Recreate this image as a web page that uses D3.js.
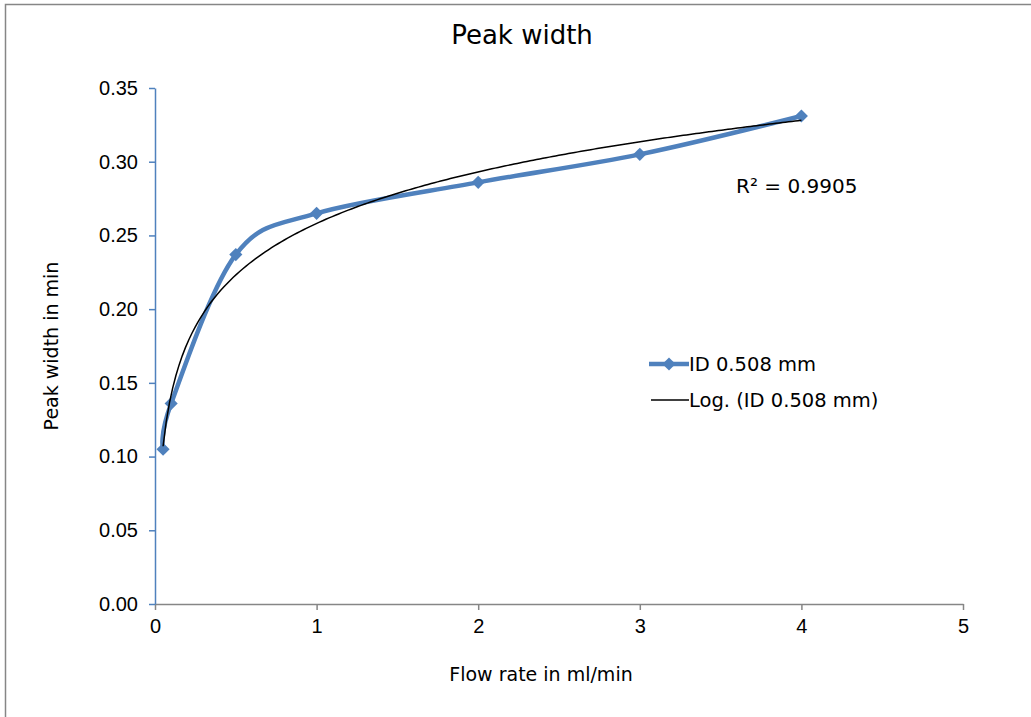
<!DOCTYPE html>
<html>
<head>
<meta charset="utf-8">
<script src="https://cdn.jsdelivr.net/npm/d3@7.9.0/dist/d3.min.js"></script>
<style>
  body { margin: 0; background: #fff; }
  svg { display: block; font-family: "DejaVu Sans", Verdana, sans-serif; }
</style>
</head>
<body>
<svg id="chart" width="1031" height="717"></svg>
<script>
// data
const flowRate = [0.05, 0.1, 0.5, 1, 2, 3, 4];
const peakWidth = [0.105, 0.136, 0.237, 0.265, 0.286, 0.305, 0.331];
const xTicks = [0, 1, 2, 3, 4, 5];
const yTicks = [0, 0.05, 0.1, 0.15, 0.2, 0.25, 0.3, 0.35];
const seriesName = 'ID 0.508 mm';
const trendName = 'Log. (ID 0.508 mm)';
const r2Label = 'R² = 0.9905';

const blue = '#4f81bd';
const width = 1031;
const height = 717;
const svg = d3.select('#chart');

// chart frame (right and bottom edges are outside the window)
svg.append('rect')
    .attr('x', 5.5).attr('y', 4.5)
    .attr('width', 1040).attr('height', 740)
    .attr('fill', '#fff')
    .attr('stroke', '#868686')
    .attr('stroke-width', 1.5);

const plot = { left: 155, right: 963, top: 88, bottom: 604 };

const xScale = d3.scaleLinear().domain([0, 5]).range([plot.left, plot.right]);
const yScale = d3.scaleLinear().domain([0, 0.35]).range([plot.bottom, plot.top]);

// x axis
const xAxis = svg.append('g')
    .attr('transform', `translate(0, ${plot.bottom})`)
    .call(d3.axisBottom(xScale).tickValues(xTicks).tickFormat(d3.format('d')).tickSize(6).tickSizeOuter(0));
xAxis.select('.domain').attr('stroke', '#868686').attr('stroke-width', 1.5);
xAxis.selectAll('.tick line').attr('stroke', '#868686').attr('stroke-width', 1.5);
xAxis.selectAll('.tick text').attr('font-size', 20).attr('fill', '#000').attr('dy', '1em');

// y axis
const yAxis = svg.append('g')
    .attr('transform', `translate(${plot.left}, 0)`)
    .call(d3.axisLeft(yScale).tickValues(yTicks).tickFormat(d3.format('.2f')).tickSize(6).tickSizeOuter(0));
yAxis.select('.domain').attr('stroke', blue).attr('stroke-width', 1.5);
yAxis.selectAll('.tick line').attr('stroke', blue).attr('stroke-width', 1.5);
yAxis.selectAll('.tick text').attr('font-size', 20).attr('fill', '#000').attr('x', -17);

const points = flowRate.map((x, i) => ({ x, y: peakWidth[i] }));

// logarithmic trendline fitted to the points (least squares on ln x)
const lx = flowRate.map(Math.log);
const mx = d3.mean(lx);
const my = d3.mean(peakWidth);
const slope = d3.sum(lx, (v, i) => (v - mx) * (peakWidth[i] - my)) / d3.sum(lx, v => (v - mx) ** 2);
const intercept = my - slope * mx;
const trendX = d3.range(0, 201).map(i => flowRate[0] + (flowRate[flowRate.length - 1] - flowRate[0]) * i / 200);

// series line (smoothed like the spreadsheet)
svg.append('path')
    .datum(points)
    .attr('fill', 'none')
    .attr('stroke', blue)
    .attr('stroke-width', 4.5)
    .attr('stroke-linejoin', 'round')
    .attr('d', d3.line().x(d => xScale(d.x)).y(d => yScale(d.y)).curve(d3.curveCatmullRom.alpha(0)));

const diamond = d3.symbol().type(d3.symbolDiamond2).size(110);
svg.append('g')
    .selectAll('path')
    .data(points)
    .join('path')
    .attr('transform', d => `translate(${xScale(d.x)}, ${yScale(d.y)})`)
    .attr('d', diamond)
    .attr('fill', blue);

svg.append('path')
    .datum(trendX)
    .attr('fill', 'none')
    .attr('stroke', '#000')
    .attr('stroke-width', 1.5)
    .attr('d', d3.line().x(d => xScale(d)).y(d => yScale(slope * Math.log(d) + intercept)));

// titles
svg.append('text')
    .attr('x', 522).attr('y', 44)
    .attr('text-anchor', 'middle')
    .attr('font-size', 26)
    .text('Peak width');

svg.append('text')
    .attr('x', 541).attr('y', 681)
    .attr('text-anchor', 'middle')
    .attr('font-size', 19)
    .text('Flow rate in ml/min');

svg.append('text')
    .attr('transform', 'translate(58, 346) rotate(-90)')
    .attr('text-anchor', 'middle')
    .attr('font-size', 19)
    .text('Peak width in min');

svg.append('text')
    .attr('x', 736).attr('y', 193)
    .attr('font-size', 20)
    .text(r2Label);

// legend
const legend = svg.append('g').attr('transform', 'translate(649, 364)');
legend.append('line').attr('x1', 0).attr('x2', 40).attr('stroke', blue).attr('stroke-width', 4.5);
legend.append('path').attr('transform', 'translate(20, 0)').attr('d', diamond).attr('fill', blue);
legend.append('text').attr('x', 40).attr('y', 7).attr('font-size', 19.5).text(seriesName);
legend.append('line').attr('x1', 2).attr('x2', 40).attr('y1', 36).attr('y2', 36).attr('stroke', '#000').attr('stroke-width', 1.5);
legend.append('text').attr('x', 40).attr('y', 43).attr('font-size', 19.5).text(trendName);
</script>
</body>
</html>
